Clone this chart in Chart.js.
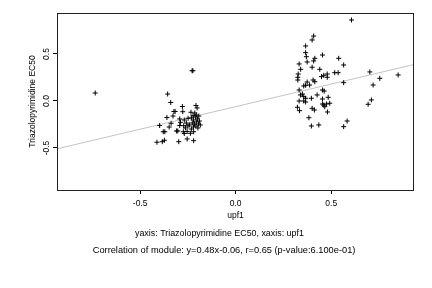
<!DOCTYPE html>
<html><head><meta charset="utf-8">
<script src="https://cdn.jsdelivr.net/npm/chart.js@4"></script>
<style>html,body{margin:0;padding:0;background:#fff}</style>
</head><body>
<canvas id="c" width="432" height="288" style="width:432px;height:288px"></canvas>
<script>
const xTicks = [-0.5, 0.0, 0.5];
const yTicks = [-0.5, 0.0, 0.5];
const xTitle = 'upf1';
const yTitle = 'Triazolopyrimidine EC50';
const caption1 = 'yaxis: Triazolopyrimidine EC50, xaxis: upf1';
const caption2 = 'Correlation of module: y=0.48x-0.06, r=0.65 (p-value:6.100e-01)';
const fitX = [-0.935, 0.933];
const fitY = [-0.509, 0.388];

const upf1 = [
 -0.735,-0.228,-0.224,-0.356,-0.340,-0.279,-0.323,-0.317,-0.208,-0.202,
 -0.360,-0.328,-0.277,-0.234,-0.223,-0.214,-0.293,-0.289,-0.269,-0.249,
 -0.398,-0.338,-0.293,-0.272,-0.250,-0.379,-0.371,-0.310,-0.303,-0.274,
 -0.269,-0.254,-0.237,-0.220,-0.412,-0.384,-0.373,-0.298,-0.254,-0.220,
 -0.232,-0.221,-0.211,-0.200,-0.190,-0.227,-0.216,-0.206,-0.195,-0.185,
 -0.221,-0.208,-0.198,-0.232,-0.242,-0.206,-0.193,-0.258,-0.263,-0.348,
 0.606,0.408,0.400,0.366,0.366,0.370,0.374,0.414,0.408,0.454,
 0.539,0.565,0.332,0.340,0.400,0.440,0.518,0.536,0.702,0.850,
 0.754,0.327,0.325,0.325,0.374,0.405,0.414,0.356,0.366,0.387,
 0.449,0.461,0.479,0.479,0.565,0.719,0.332,0.339,0.349,0.356,
 0.366,0.454,0.463,0.426,0.332,0.356,0.366,0.396,0.454,0.484,
 0.454,0.461,0.466,0.475,0.492,0.480,0.323,0.334,0.400,0.412,
 0.710,0.693,0.383,0.396,0.435,0.565,0.583
];
const ec50 = [
 0.085,0.322,0.322,0.074,-0.016,-0.059,-0.112,-0.112,-0.048,-0.074,
 -0.176,-0.160,-0.114,-0.120,-0.156,-0.128,-0.191,-0.227,-0.202,-0.184,
 -0.261,-0.237,-0.261,-0.263,-0.266,-0.327,-0.327,-0.319,-0.319,-0.327,
 -0.346,-0.324,-0.344,-0.327,-0.439,-0.433,-0.418,-0.433,-0.404,-0.422,
 -0.181,-0.202,-0.170,-0.191,-0.213,-0.234,-0.245,-0.223,-0.245,-0.255,
 -0.277,-0.266,-0.287,-0.298,-0.255,-0.149,-0.160,-0.234,-0.287,-0.277,
 0.862,0.691,0.649,0.585,0.514,0.471,0.415,0.454,0.426,0.489,
 0.454,0.383,0.394,0.337,0.359,0.337,0.301,0.301,0.309,0.277,
 0.241,0.287,0.252,0.223,0.202,0.223,0.205,0.160,0.167,0.170,
 0.259,0.273,0.287,0.252,0.195,0.170,0.117,0.064,0.074,0.046,
 0.029,0.117,0.106,0.064,0.000,0.000,-0.011,0.029,0.021,0.039,
 -0.032,-0.043,-0.061,-0.032,-0.024,-0.117,-0.067,-0.103,-0.078,-0.096,
 0.011,-0.035,-0.178,-0.266,-0.255,-0.273,-0.213
];

const FONT = '"Liberation Sans", Arial, Helvetica, sans-serif';

function fitText(ctx, text, width) {
  ctx.font = '10px ' + FONT;
  const w = ctx.measureText(text).width;
  return 10 * width / w;
}

const decor = {
  id: 'decor',
  afterDraw(chart) {
    const ctx = chart.ctx;
    const ca = chart.chartArea;
    const ys = chart.scales.y;
    ctx.save();
    ctx.strokeStyle = '#222';
    ctx.lineWidth = 1;
    ctx.strokeRect(ca.left + 0.5, ca.top + 0.5, ca.right - ca.left - 1, ca.bottom - ca.top);
    ctx.fillStyle = '#000';
    ctx.textAlign = 'center';
    ctx.textBaseline = 'middle';
    ctx.font = '8.5px ' + FONT;
    ys.ticks.forEach(t => {
      const py = ys.getPixelForValue(t.value);
      ctx.save();
      ctx.translate(46.5, py);
      ctx.rotate(-Math.PI / 2);
      ctx.fillText(t.value.toFixed(1), 0, 0);
      ctx.restore();
    });
    ctx.save();
    ctx.translate(33, (ca.top + ca.bottom) / 2);
    ctx.rotate(-Math.PI / 2);
    ctx.fillText(yTitle, 0, 0);
    ctx.restore();
    ctx.fillText(xTitle, (ca.left + ca.right) / 2, 216);
    ctx.textAlign = 'left';
    let s1 = fitText(ctx, caption1, 169);
    ctx.font = s1.toFixed(2) + 'px ' + FONT;
    ctx.fillText(caption1, 135, 233.5);
    let s2 = fitText(ctx, caption2, 263);
    ctx.font = s2.toFixed(2) + 'px ' + FONT;
    ctx.fillText(caption2, 92.7, 250.5);
    ctx.restore();
  }
};

new Chart(document.getElementById('c').getContext('2d'), {
  type: 'scatter',
  data: {
    datasets: [
      {
        type: 'line',
        data: fitX.map((x, i) => ({x, y: fitY[i]})),
        borderColor: '#c4c4c4', borderWidth: 1, pointRadius: 0, fill: false, order: 2
      },
      {
        data: upf1.map((x, i) => ({x, y: ec50[i]})),
        pointStyle: 'cross', pointRadius: 2.5, borderColor: '#000', backgroundColor: '#000',
        borderWidth: 1, order: 1
      }
    ]
  },
  options: {
    responsive: false, animation: false, devicePixelRatio: 1,
    layout: {padding: {left: 0, top: 13, right: 18, bottom: 0}},
    plugins: {legend: {display: false}, tooltip: {enabled: false}},
    scales: {
      x: {
        type: 'linear', min: -0.935, max: 0.933,
        afterFit: s => { s.height = 98; },
        afterBuildTicks: s => { s.ticks = xTicks.map(v => ({value: v})); },
        grid: {drawOnChartArea: false, drawTicks: true, tickLength: 4, color: '#000'},
        border: {display: false},
        ticks: {callback: v => Number(v).toFixed(1), color: '#000', font: {family: FONT, size: 8.5}, padding: 5, maxRotation: 0, minRotation: 0}
      },
      y: {
        type: 'linear', min: -0.947, max: 0.936,
        afterFit: s => { s.width = 57; },
        afterBuildTicks: s => { s.ticks = yTicks.map(v => ({value: v})); },
        grid: {drawOnChartArea: false, drawTicks: true, tickLength: 4, color: '#000'},
        border: {display: false},
        ticks: {display: false}
      }
    }
  },
  plugins: [decor]
});
</script>
</body></html>
